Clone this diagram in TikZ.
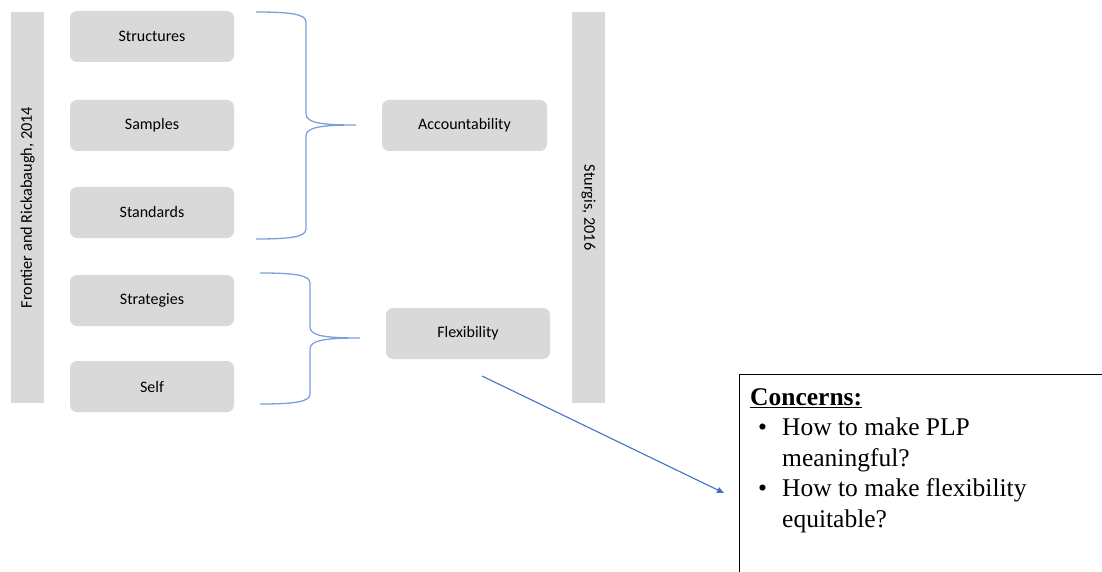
\documentclass[tikz,border=0pt]{standalone}
\usepackage{fontspec}
\setmainfont{Carlito}
\newfontfamily\timesfont{Liberation Serif}
\usetikzlibrary{arrows.meta}

\definecolor{boxgray}{HTML}{D9D9D9}
\definecolor{linkblue}{HTML}{4472C4}
\definecolor{braceblue}{HTML}{7F9FDA}

\tikzset{
  item/.style={fill=boxgray, rounded corners=7pt, minimum width=164pt, minimum height=51pt, inner sep=0pt, font=\fontsize{16}{18}\selectfont},
  sidebar/.style={fill=boxgray, minimum width=391pt, minimum height=33pt, inner sep=0pt, font=\fontsize{16.3}{18}\selectfont},
  brace/.style={braceblue, line width=1.3pt},
}

\begin{document}
\begin{tikzpicture}[x=1pt,y=-1pt]
\useasboundingbox (0,0) rectangle (1102,572);

% side bars
\node (frontier) [sidebar, rotate=90] at (27.5,207.5) {Frontier and Rickabaugh, 2014};
\node (sturgis) [sidebar, rotate=-90] at (588.5,207.5) {Sturgis, 2016};

% left column
\node (structures) [item] at (152,36.5) {Structures};
\node (samples) [item] at (152,125.5) {Samples};
\node (standards) [item] at (152,212.5) {Standards};
\node (strategies) [item] at (152,300.5) {Strategies};
\node (self) [item] at (152,386.5) {Self};

% right column
\node (account) [item, minimum width=165pt] at (464.5,125.5) {Accountability};
\node (flex) [item] at (468,333.5) {Flexibility};

% braces
\draw [brace] (256,12) .. controls (290,12) and (306,14) .. (306,22) -- (306,114)
  .. controls (306,123) and (322,125) .. (356,125)
  .. controls (322,125) and (306,127) .. (306,136) -- (306,229)
  .. controls (306,237) and (290,239) .. (256,239);
\draw [brace] (260,273) .. controls (294,273) and (310,275) .. (310,283) -- (310,327)
  .. controls (310,336) and (326,338) .. (360,338)
  .. controls (326,338) and (310,340) .. (310,349) -- (310,394)
  .. controls (310,402) and (294,404) .. (260,404);

% concerns
\node (concerns) [draw=black, line width=1pt, anchor=north west, minimum width=380pt, minimum height=220pt] at (739,374) {};
\node (notes) [anchor=north west, align=left, inner sep=0pt, font=\timesfont\fontsize{25.5}{30.5}\selectfont] at (750,388)
  {\textbf{\underline{Concerns:}}\\
   \makebox[32pt][l]{\hspace{8pt}\textbullet}How to make PLP\\
   \hspace*{32pt}meaningful?\\
   \makebox[32pt][l]{\hspace{8pt}\textbullet}How to make flexibility\\
   \hspace*{32pt}equitable?};

\coordinate (arrfrom) at (482,376);
\coordinate (arrto) at (724,493);
\draw [linkblue, line width=1.1pt, -{Triangle[length=7pt,width=6pt]}] (arrfrom) -- (arrto);
\end{tikzpicture}
\end{document}
